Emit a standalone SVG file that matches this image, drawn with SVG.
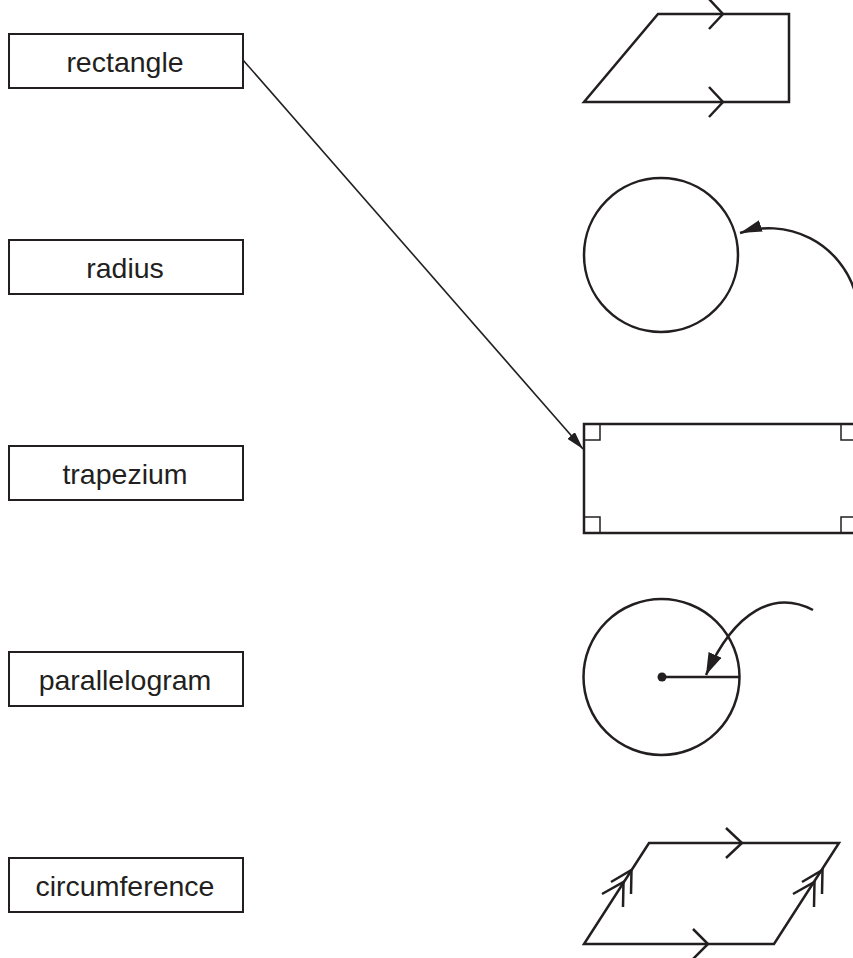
<svg xmlns="http://www.w3.org/2000/svg" width="853" height="958" viewBox="0 0 853 958">
<style>
.box{fill:#fff;stroke:#231f20;stroke-width:2}
.lbl{font-family:"Liberation Sans",Arial,sans-serif;font-size:28.5px;fill:#231f20;text-anchor:middle}
.shp{fill:none;stroke:#231f20;stroke-width:2.5;stroke-linejoin:miter}
.thin{fill:none;stroke:#231f20;stroke-width:1.6}
.mark{fill:none;stroke:#231f20;stroke-width:1.5}
</style>
<defs>
<marker id="ah" viewBox="0 0 22 12" refX="22" refY="6" markerWidth="22" markerHeight="12" markerUnits="userSpaceOnUse" orient="auto">
<path d="M0,0 L22,6 L0,12 z" fill="#231f20"/>
</marker>
<marker id="ahb" viewBox="0 0 22 14" refX="22" refY="7" markerWidth="22" markerHeight="14" markerUnits="userSpaceOnUse" orient="auto">
<path d="M0,0 L22,7 L0,14 z" fill="#231f20"/>
</marker>
<marker id="ahs" viewBox="0 0 18 10" refX="18" refY="5" markerWidth="18" markerHeight="10" markerUnits="userSpaceOnUse" orient="auto">
<path d="M0,0 L18,5 L0,10 z" fill="#231f20"/>
</marker>
</defs>
<rect width="853" height="958" fill="#fff"/>

<g id="label-rectangle"><rect class="box" x="9" y="34" width="234" height="54"/><text class="lbl" x="125" y="72">rectangle</text></g>
<g id="label-radius"><rect class="box" x="9" y="240" width="234" height="54"/><text class="lbl" x="125" y="278">radius</text></g>
<g id="label-trapezium"><rect class="box" x="9" y="446" width="234" height="54"/><text class="lbl" x="125" y="484">trapezium</text></g>
<g id="label-parallelogram"><rect class="box" x="9" y="652" width="234" height="54"/><text class="lbl" x="125" y="690">parallelogram</text></g>
<g id="label-circumference"><rect class="box" x="9" y="858" width="234" height="54"/><text class="lbl" x="125" y="896">circumference</text></g>

<g id="shape-trapezium">
<polygon class="shp" points="658,14 789,14 789,102 584,102"/>
<polyline class="shp" points="709,-1 723,14 709,29"/>
<polyline class="shp" points="709,87 723,102 709,117"/>
</g>

<g id="shape-circumference">
<circle class="shp" cx="661" cy="255" r="77"/>
<path class="shp" d="M855,292 A90 90 0 0 0 740,233" marker-end="url(#ah)"/>
</g>

<g id="shape-rectangle">
<rect class="shp" x="584" y="424" width="273" height="109"/>
<polyline class="mark" points="584,440 600,440 600,424"/>
<polyline class="mark" points="584,517 600,517 600,533"/>
<polyline class="mark" points="857,440 841,440 841,424"/>
<polyline class="mark" points="857,517 841,517 841,533"/>
</g>

<g id="shape-radius">
<circle class="shp" cx="661.5" cy="677" r="78"/>
<line class="shp" x1="662" y1="677" x2="739" y2="677"/>
<circle cx="662" cy="677" r="4.5" fill="#231f20"/>
<path class="shp" d="M813,610 C775,590 735,610 706,675" marker-end="url(#ahb)"/>
</g>

<g id="shape-parallelogram">
<polygon class="shp" points="649,843 839,843 774,944 584,944"/>
<polyline class="shp" points="726,828 742,843 726,858"/>
<polyline class="shp" points="693,929 708,944 693,959"/>
<polyline class="shp" points="611,882 631.5,870 631,894"/>
<polyline class="shp" points="602,894 623.5,882 623,907"/>
<polyline class="shp" points="802,882 822.5,870 822,894"/>
<polyline class="shp" points="793,894 814.5,882 814,907"/>
</g>

<g id="connectors">
<line class="thin" x1="243" y1="60" x2="583" y2="449" marker-end="url(#ahs)"/>
</g>
</svg>
